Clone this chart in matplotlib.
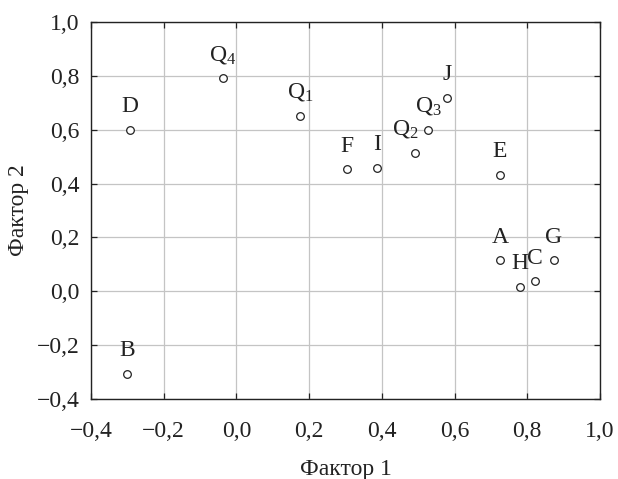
import matplotlib
matplotlib.use("Agg")
import matplotlib.pyplot as plt
from matplotlib.ticker import FuncFormatter, MultipleLocator

plt.rcParams['font.family'] = ['Liberation Serif', 'DejaVu Serif']
plt.rcParams['mathtext.fontset'] = 'custom'
plt.rcParams['mathtext.rm'] = 'Liberation Serif'
plt.rcParams['mathtext.default'] = 'regular'

labels = ['D', r'Q$_4$', r'Q$_1$', 'F', 'I', r'Q$_2$', r'Q$_3$', 'J', 'E', 'A', 'G', 'C', 'H', 'B']
factor1 = [-0.293, -0.037, 0.175, 0.304, 0.387, 0.491, 0.527, 0.579, 0.725, 0.725, 0.873, 0.821, 0.780, -0.301]
factor2 = [0.599, 0.792, 0.651, 0.454, 0.458, 0.514, 0.599, 0.718, 0.432, 0.116, 0.116, 0.038, 0.016, -0.307]

# label offsets in points (dx, dy) relative to each point
offsets = {r'Q$_2$': (-7, 9)}

fig = plt.figure(figsize=(6.18, 4.79), dpi=100)
ax = fig.add_axes([91/618, 1 - 399/479, (600-91)/618, (399-22)/479])

ax.plot(factor1, factor2, linestyle='none', marker='o', markersize=5.5,
        markerfacecolor='white', markeredgecolor='#222222', markeredgewidth=0.9, zorder=3)

for lab, x, y in zip(labels, factor1, factor2):
    dx, dy = offsets.get(lab, (0, 9))
    ax.annotate(lab, (x, y), xytext=(dx, dy), textcoords='offset points',
                ha='center', va='bottom', fontsize=17, color='#222222')

ax.set_xlim(-0.4, 1.0)
ax.set_ylim(-0.4, 1.0)
ax.xaxis.set_major_locator(MultipleLocator(0.2))
ax.yaxis.set_major_locator(MultipleLocator(0.2))
fmt = FuncFormatter(lambda v, p: f"{v:.1f}".replace('.', ',').replace('-', '\u2212'))
ax.xaxis.set_major_formatter(fmt)
ax.yaxis.set_major_formatter(fmt)

ax.grid(True, color='#c4c4c4', linewidth=0.9)
ax.set_axisbelow(True)
ax.tick_params(direction='in', length=4, width=0.9, top=True, right=True,
               labelsize=17, colors='#222222')
ax.tick_params(axis='x', pad=16)
ax.tick_params(axis='y', pad=8)
for s in ax.spines.values():
    s.set_linewidth(1.0)
    s.set_color('#222222')

ax.set_xlabel('Фактор 1', fontsize=17, color='#222222', labelpad=12)
ax.set_ylabel('Фактор 2', fontsize=17, color='#222222', labelpad=6)

fig.savefig('out.png', dpi=100)
